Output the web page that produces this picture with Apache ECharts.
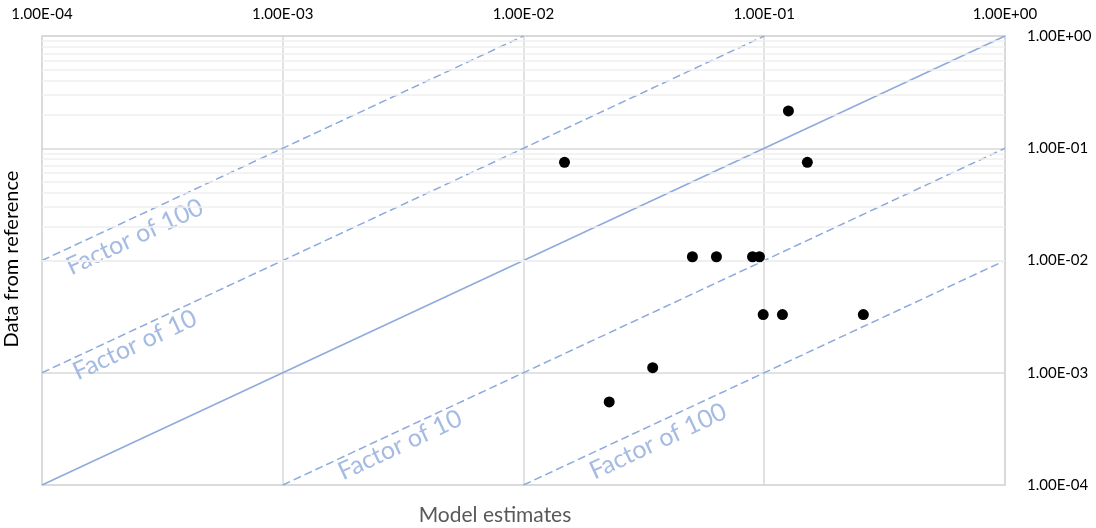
<!DOCTYPE html>
<html>
<head>
<meta charset="utf-8">
<script src="https://cdn.jsdelivr.net/npm/echarts@6/dist/echarts.min.js"></script>
<style>
html,body{margin:0;padding:0;background:#fff;}
#chart{width:1096px;height:528px;}
</style>
</head>
<body>
<div id="chart"></div>
<script>
// ---- data ----
const modelEstimates = [0.0148, 0.126, 0.151, 0.0503, 0.0633, 0.0894, 0.0955, 0.099, 0.119, 0.258, 0.0344, 0.0227];
const referenceData  = [0.075, 0.215, 0.075, 0.0108, 0.0108, 0.0108, 0.0108, 0.0033, 0.0033, 0.0033, 0.00111, 0.00055];

const lineEqual   = [[1e-4, 1e-4], [1, 1]];
const lineUp10    = [[1e-4, 1e-3], [1e-1, 1]];
const lineUp100   = [[1e-4, 1e-2], [1e-2, 1]];
const lineDown10  = [[1e-3, 1e-4], [1, 1e-1]];
const lineDown100 = [[1e-2, 1e-4], [1, 1e-2]];

const annotationTexts = ['Factor of 100', 'Factor of 10', 'Factor of 10', 'Factor of 100'];
const annotationX = [2.43e-4, 2.43e-4, 3.07e-3, 3.62e-2];
const annotationY = [1.62e-2, 1.77e-3, 2.27e-4, 2.45e-4];

const minorGridValues = [];
[1e-4, 1e-3, 1e-2, 1e-1].forEach(d => { for (let k = 2; k <= 9; k++) minorGridValues.push(+(k * d).toPrecision(3)); });

const xTitle = 'Model estimates';
const yTitle = 'Data from reference';

// ---- helpers ----
function fmt(v) {
  const e = Math.round(Math.log10(v));
  const m = v / Math.pow(10, e);
  return m.toFixed(2) + 'E' + (e < 0 ? '-' : '+') + String(Math.abs(e)).padStart(2, '0');
}
const FONT = 'Lato';
const lineColor = '#8eaadc';
const gridColor = '#d9d9d9';

const chart = echarts.init(document.getElementById('chart'), null, {renderer: 'canvas'});

function guideLine(data, dashed) {
  return {
    type: 'line', data: data, symbol: 'none', silent: true, z: 3,
    lineStyle: {color: lineColor, width: 1.5, type: dashed ? [8, 4] : 'solid'}
  };
}

const option = {
  backgroundColor: '#fff',
  animation: false,
  textStyle: {fontFamily: FONT},
  grid: {left: 42, right: 91, top: 36, bottom: 43, show: true, borderColor: gridColor, borderWidth: 1.5,
         outerBoundsMode: 'none', containLabel: false},
  xAxis: {
    type: 'log', logBase: 10, min: 1e-4, max: 1, position: 'top',
    axisLine: {show: true, lineStyle: {color: gridColor, width: 1.5}},
    axisTick: {show: false},
    axisLabel: {formatter: fmt, color: '#000', fontSize: 15, fontFamily: FONT, margin: 14},
    splitLine: {show: true, lineStyle: {color: gridColor, width: 1.5}},
    minorTick: {show: false}, minorSplitLine: {show: false}
  },
  yAxis: {
    type: 'log', logBase: 10, min: 1e-4, max: 1, position: 'right',
    axisLine: {show: true, lineStyle: {color: gridColor, width: 1.5}},
    axisTick: {show: false},
    axisLabel: {formatter: fmt, color: '#000', fontSize: 15, fontFamily: FONT, margin: 22},
    splitLine: {show: true, lineStyle: {color: gridColor, width: 1.5}},
    minorTick: {show: false}, minorSplitLine: {show: false}
  },
  graphic: [
    {type: 'text', x: 495, y: 515, silent: true,
     style: {text: xTitle, fontSize: 21, fontFamily: FONT, fill: '#595959', align: 'center', verticalAlign: 'middle'}},
    {type: 'text', x: 12, y: 259, rotation: Math.PI / 2, silent: true,
     style: {text: yTitle, fontSize: 20, fontFamily: FONT, fill: '#000', align: 'center', verticalAlign: 'middle'}}
  ],
  series: [
    {
      type: 'scatter', data: [], silent: true, z: 1,
      markLine: {
        silent: true, symbol: 'none', label: {show: false}, animation: false,
        lineStyle: {color: '#efefef', width: 1.5, type: 'solid'},
        data: minorGridValues.map(v => ({yAxis: v}))
      }
    },
    guideLine(lineEqual, false),
    guideLine(lineUp10, true),
    guideLine(lineUp100, true),
    guideLine(lineDown10, true),
    guideLine(lineDown100, true),
    {
      type: 'scatter', symbolSize: 0, silent: true, z: 4,
      data: annotationTexts.map((t, i) => ({name: t, value: [annotationX[i], annotationY[i]]})),
      label: {show: true, position: 'inside', formatter: '{b}', rotate: 25, color: lineColor,
              fontSize: 25, fontFamily: FONT, align: 'center', verticalAlign: 'middle'}
    },
    {
      type: 'scatter', symbol: 'circle', symbolSize: 11, z: 5,
      itemStyle: {color: '#000', opacity: 1},
      data: modelEstimates.map((x, i) => [x, referenceData[i]])
    }
  ]
};
chart.setOption(option);
</script>
</body>
</html>
